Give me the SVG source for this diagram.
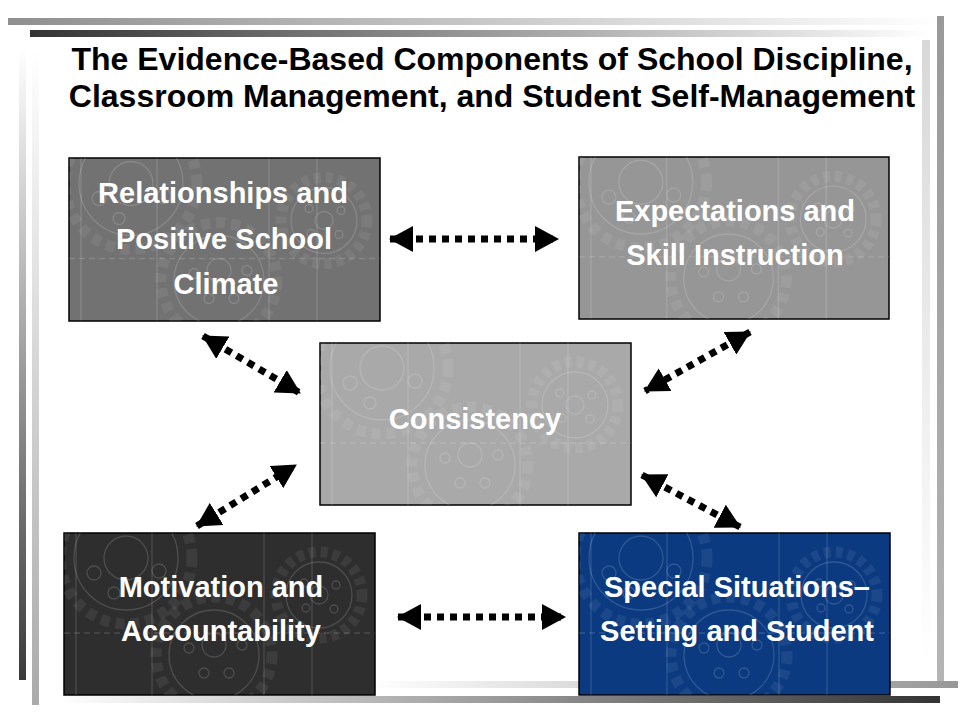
<svg xmlns="http://www.w3.org/2000/svg" width="960" height="720" viewBox="0 0 960 720">
<style>
.title{font-family:"Liberation Sans",Arial,sans-serif;font-weight:bold;font-size:32px;fill:#000;text-anchor:middle}
.lbl{font-family:"Liberation Sans",Arial,sans-serif;font-weight:bold;font-size:29px;fill:#fff;text-anchor:middle}
.box{stroke:#000;stroke-width:1.5}
.conn{stroke:#000;stroke-width:7;stroke-dasharray:7 6;fill:none;marker-start:url(#ah);marker-end:url(#ah)}
.g{fill:none;stroke:#fff;stroke-opacity:0.15;stroke-width:1.3}
.t{fill:none;stroke:#fff;stroke-opacity:0.07;stroke-width:11}
</style>
<defs>
<marker id="ah" viewBox="0 0 24 26" refX="23" refY="13" markerWidth="24" markerHeight="26" markerUnits="userSpaceOnUse" orient="auto-start-reverse">
<path d="M0,0 L24,13 L0,26 Z" fill="#000"/>
</marker>
<linearGradient id="hTopGray" x1="0" x2="1" y1="0" y2="0"><stop offset="0" stop-color="#8f8f8f"/><stop offset="1" stop-color="#fff"/></linearGradient>
<linearGradient id="hTopDark" x1="0" x2="1" y1="0" y2="0"><stop offset="0" stop-color="#333"/><stop offset="1" stop-color="#fff"/></linearGradient>
<linearGradient id="hBotGray" x1="0" x2="1" y1="0" y2="0"><stop offset="0" stop-color="#fff"/><stop offset="1" stop-color="#979797"/></linearGradient>
<linearGradient id="hBotDark" x1="0" x2="1" y1="0" y2="0"><stop offset="0" stop-color="#fff"/><stop offset="1" stop-color="#333"/></linearGradient>
<linearGradient id="vLeftDark" x1="0" x2="0" y1="0" y2="1"><stop offset="0" stop-color="#fff"/><stop offset="1" stop-color="#3a3a3a"/></linearGradient>
<linearGradient id="vLeftGray" x1="0" x2="0" y1="0" y2="1"><stop offset="0" stop-color="#fff"/><stop offset="1" stop-color="#aaa"/></linearGradient>
<linearGradient id="vRightGray" x1="0" x2="0" y1="0" y2="1"><stop offset="0" stop-color="#999"/><stop offset="1" stop-color="#b5b5b5"/></linearGradient>
<linearGradient id="vRightLight" x1="0" x2="0" y1="0" y2="1"><stop offset="0" stop-color="#d8d8d8"/><stop offset="1" stop-color="#fff"/></linearGradient>
<symbol id="gears" viewBox="0 0 311 162">
<line class="g" x1="12" y1="0" x2="12" y2="162"/>
<line class="g" x1="88" y1="0" x2="88" y2="162"/>
<line class="g" x1="200" y1="0" x2="200" y2="162"/>
<line class="g" x1="248" y1="0" x2="248" y2="162"/>
<line class="g" x1="0" y1="100" x2="311" y2="100" stroke-dasharray="6 4"/>
<circle class="g" cx="62" cy="25" r="52"/>
<circle class="t" cx="62" cy="25" r="66" stroke-dasharray="9 6"/>
<circle class="g" cx="62" cy="25" r="22"/>
<circle class="g" cx="30" cy="40" r="7"/>
<circle class="g" cx="95" cy="38" r="7"/>
<circle class="g" cx="50" cy="60" r="6"/>
<circle class="g" cx="150" cy="122" r="45"/>
<circle class="t" cx="150" cy="122" r="58" stroke-dasharray="9 6"/>
<circle class="g" cx="150" cy="112" r="12"/>
<circle class="g" cx="125" cy="115" r="5"/>
<circle class="g" cx="178" cy="112" r="5"/>
<circle class="g" cx="140" cy="140" r="5"/>
<circle class="g" cx="165" cy="140" r="5"/>
<circle class="g" cx="255" cy="62" r="33"/>
<circle class="t" cx="255" cy="62" r="43" stroke-dasharray="7 5"/>
<circle class="g" cx="255" cy="62" r="9"/>
<circle class="g" cx="240" cy="50" r="4"/>
<circle class="g" cx="272" cy="52" r="4"/>
<circle class="g" cx="242" cy="75" r="4"/>
<circle class="g" cx="270" cy="76" r="4"/>
</symbol>
</defs>
<rect width="960" height="720" fill="#fff"/>
<g id="frame">
<rect x="8" y="18" width="932" height="7" fill="url(#hTopGray)"/>
<rect x="30" y="30" width="900" height="7" fill="url(#hTopDark)"/>
<rect x="19" y="48" width="7" height="632" fill="url(#vLeftDark)"/>
<rect x="32" y="50" width="7" height="655" fill="url(#vLeftGray)"/>
<rect x="937" y="16" width="7" height="665" fill="url(#vRightGray)"/>
<rect x="922" y="40" width="8" height="622" fill="url(#vRightLight)"/>
<rect x="370" y="681" width="588" height="7" fill="url(#hBotGray)"/>
<rect x="60" y="696" width="880" height="7" fill="url(#hBotDark)"/>
</g>
<g id="title">
<text class="title" x="492" y="70">The Evidence-Based Components of School Discipline,</text>
<text class="title" x="492" y="107">Classroom Management, and Student Self-Management</text>
</g>
<g id="node-relationships">
<rect class="box" x="69" y="158" width="311" height="163" fill="#727272"/>
<use href="#gears" x="69" y="158" width="311" height="163"/>
<text class="lbl" x="223" y="203">Relationships and</text>
<text class="lbl" x="224" y="249">Positive School</text>
<text class="lbl" x="226" y="294">Climate</text>
</g>
<g id="node-expectations">
<rect class="box" x="579" y="157" width="310" height="162" fill="#969696"/>
<use href="#gears" x="579" y="157" width="310" height="162"/>
<text class="lbl" x="735" y="221">Expectations and</text>
<text class="lbl" x="735" y="265">Skill Instruction</text>
</g>
<g id="node-consistency">
<rect class="box" x="320" y="343" width="311" height="162" fill="#a9a9a9"/>
<use href="#gears" x="320" y="343" width="311" height="162"/>
<text class="lbl" x="475" y="429">Consistency</text>
</g>
<g id="node-motivation">
<rect class="box" x="64" y="533" width="311" height="162" fill="#2e2e2e"/>
<use href="#gears" x="64" y="533" width="311" height="162"/>
<text class="lbl" x="221" y="597">Motivation and</text>
<text class="lbl" x="221" y="641">Accountability</text>
</g>
<g id="node-special">
<rect class="box" x="579" y="533" width="311" height="162" fill="#0b3a80"/>
<use href="#gears" x="579" y="533" width="311" height="162"/>
<text class="lbl" x="737" y="597">Special Situations–</text>
<text class="lbl" x="737" y="641">Setting and Student</text>
</g>
<g id="connectors">
<line class="conn" x1="390" y1="239" x2="558" y2="239"/>
<line class="conn" x1="398" y1="617" x2="565" y2="617"/>
<line class="conn" x1="203" y1="336" x2="300" y2="393"/>
<line class="conn" x1="197" y1="526" x2="296" y2="465"/>
<line class="conn" x1="750" y1="332" x2="645" y2="391"/>
<line class="conn" x1="642" y1="475" x2="740" y2="527"/>
</g>
</svg>
